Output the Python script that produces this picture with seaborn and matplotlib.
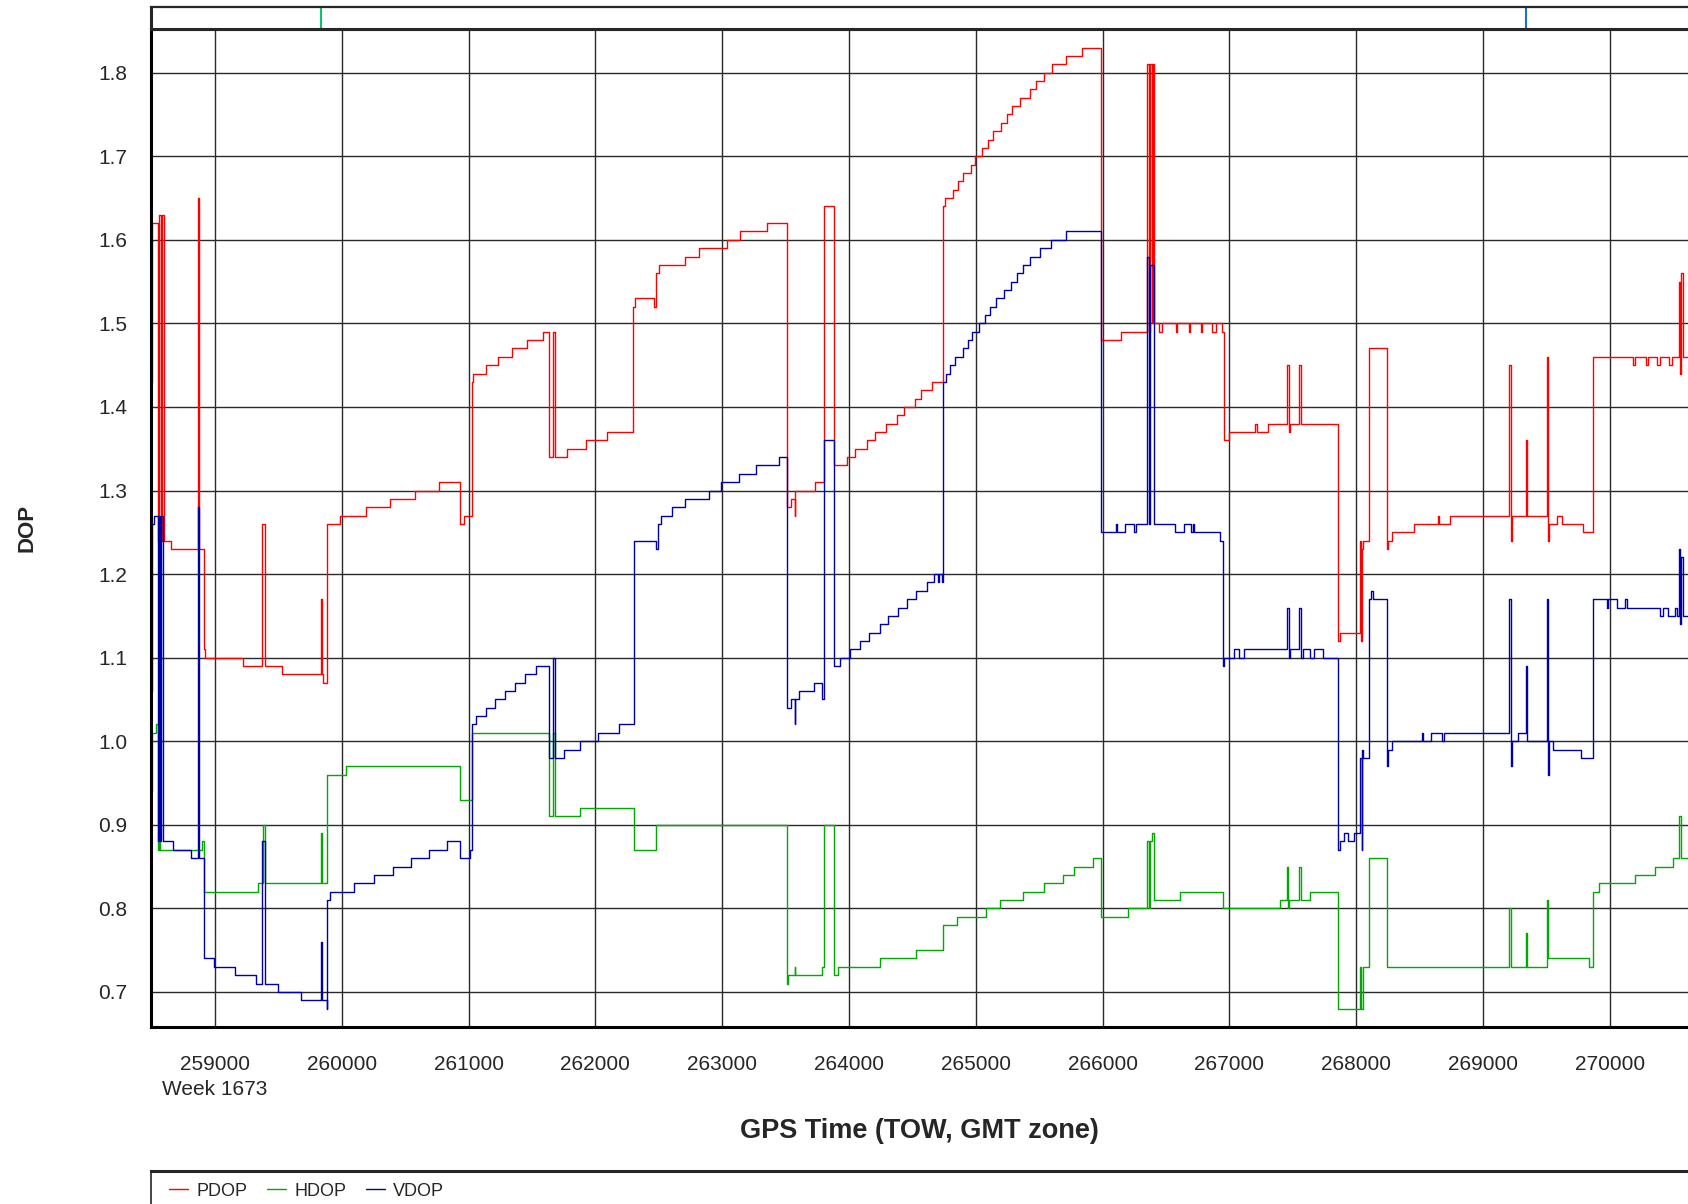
import numpy as np
import pandas as pd
import matplotlib
matplotlib.use("Agg")
import matplotlib.pyplot as plt
import seaborn as sns

# DOP readings (GPS time of week, value), step changes only
pdop_t = [258495, 258500, 258548, 258555, 258570, 258580, 258600, 258650, 258864, 258872,
          258910, 258922, 259217, 259368, 259392, 259524, 259835, 259842, 259850, 259886,
          259983, 260188, 260380, 260573, 260766, 260935, 260965, 261025, 261037, 261134,
          261233, 261342, 261459, 261589, 261634, 261664, 261680, 261773, 261924, 262095,
          262297, 262315, 262463, 262478, 262502, 262704, 262816, 263036, 263139, 263350,
          263510, 263546, 263571, 263578, 263728, 263803, 263885, 263984, 264045, 264141,
          264202, 264292, 264377, 264431, 264519, 264567, 264651, 264742, 264757, 264820,
          264863, 264902, 264965, 264995, 265050, 265098, 265137, 265198, 265246, 265288,
          265349, 265424, 265476, 265536, 265605, 265714, 265841, 265986, 266149, 266354,
          266365, 266375, 266390, 266399, 266408, 266445, 266470, 266580, 266590, 266680,
          266690, 266777, 266787, 266867, 266891, 266943, 266958, 267000, 267199, 267215,
          267305, 267453, 267474, 267480, 267553, 267566, 267861, 267874, 268032, 268040,
          268050, 268058, 268105, 268242, 268250, 268281, 268460, 268644, 268655, 268741,
          269204, 269220, 269230, 269340, 269350, 269505, 269515, 269525, 269582, 269621,
          269792, 269866, 270186, 270200, 270286, 270300, 270376, 270400, 270470, 270490,
          270550, 270558, 270565, 270575, 270618]
pdop_v = [1.43, 1.62, 1.24, 1.63, 1.24, 1.63, 1.24, 1.23, 1.65, 1.23,
          1.11, 1.10, 1.09, 1.26, 1.09, 1.08, 1.17, 1.08, 1.07, 1.26,
          1.27, 1.28, 1.29, 1.30, 1.31, 1.26, 1.27, 1.43, 1.44, 1.45,
          1.46, 1.47, 1.48, 1.49, 1.34, 1.49, 1.34, 1.35, 1.36, 1.37,
          1.52, 1.53, 1.52, 1.56, 1.57, 1.58, 1.59, 1.60, 1.61, 1.62,
          1.28, 1.29, 1.27, 1.30, 1.31, 1.64, 1.33, 1.34, 1.35, 1.36,
          1.37, 1.38, 1.39, 1.40, 1.41, 1.42, 1.43, 1.64, 1.65, 1.66,
          1.67, 1.68, 1.69, 1.70, 1.71, 1.72, 1.73, 1.74, 1.75, 1.76,
          1.77, 1.78, 1.79, 1.80, 1.81, 1.82, 1.83, 1.48, 1.49, 1.81,
          1.49, 1.81, 1.50, 1.81, 1.50, 1.49, 1.50, 1.49, 1.50, 1.49,
          1.50, 1.49, 1.50, 1.49, 1.50, 1.49, 1.36, 1.37, 1.38, 1.37,
          1.38, 1.45, 1.37, 1.38, 1.45, 1.38, 1.12, 1.13, 1.24, 1.12,
          1.23, 1.24, 1.47, 1.23, 1.24, 1.25, 1.26, 1.27, 1.26, 1.27,
          1.45, 1.24, 1.27, 1.36, 1.27, 1.46, 1.24, 1.26, 1.27, 1.26,
          1.25, 1.46, 1.45, 1.46, 1.45, 1.46, 1.45, 1.46, 1.45, 1.46,
          1.55, 1.44, 1.56, 1.46, 1.46]

hdop_t = [258495, 258500, 258530, 258548, 258555, 258565, 258900, 258915, 259335, 259380,
          259392, 259835, 259845, 259886, 260031, 260935, 261025, 261634, 261664, 261680,
          261875, 262303, 262478, 263510, 263520, 263571, 263578, 263788, 263803, 263885,
          263910, 264241, 264528, 264745, 264854, 265080, 265192, 265376, 265539, 265690,
          265771, 265925, 265986, 266197, 266354, 266365, 266375, 266390, 266405, 266611,
          266952, 267396, 267453, 267462, 267470, 267553, 267562, 267637, 267861, 268032,
          268040, 268058, 268105, 268242, 269204, 269225, 269340, 269350, 269505, 269515,
          269840, 269866, 269918, 270200, 270357, 270502, 270550, 270560, 270618]
hdop_v = [0.94, 1.01, 1.02, 0.87, 1.02, 0.87, 0.88, 0.82, 0.83, 0.90,
          0.83, 0.89, 0.83, 0.96, 0.97, 0.93, 1.01, 0.91, 1.01, 0.91,
          0.92, 0.87, 0.90, 0.71, 0.72, 0.73, 0.72, 0.73, 0.90, 0.72,
          0.73, 0.74, 0.75, 0.78, 0.79, 0.80, 0.81, 0.82, 0.83, 0.84,
          0.85, 0.86, 0.79, 0.80, 0.88, 0.80, 0.88, 0.89, 0.81, 0.82,
          0.80, 0.81, 0.85, 0.80, 0.81, 0.85, 0.81, 0.82, 0.68, 0.73,
          0.68, 0.73, 0.86, 0.73, 0.80, 0.73, 0.77, 0.73, 0.81, 0.74,
          0.73, 0.82, 0.83, 0.84, 0.85, 0.86, 0.91, 0.86, 0.86]

vdop_t = [258495, 258500, 258520, 258548, 258555, 258565, 258575, 258590, 258671, 258810,
          258864, 258872, 258910, 258991, 259157, 259322, 259368, 259392, 259494, 259675,
          259835, 259842, 259880, 259886, 259904, 260097, 260257, 260405, 260549, 260691,
          260833, 260935, 261007, 261025, 261056, 261137, 261209, 261288, 261366, 261447,
          261535, 261634, 261664, 261680, 261749, 261875, 262020, 262183, 262303, 262478,
          262490, 262514, 262605, 262704, 262894, 262991, 263133, 263266, 263447, 263510,
          263540, 263571, 263578, 263607, 263721, 263790, 263803, 263885, 263933, 264005,
          264084, 264159, 264241, 264307, 264383, 264461, 264528, 264618, 264670, 264700,
          264710, 264735, 264742, 264769, 264799, 264839, 264899, 264935, 264971, 265026,
          265074, 265110, 265156, 265222, 265276, 265322, 265376, 265430, 265503, 265593,
          265714, 265986, 266107, 266112, 266179, 266248, 266264, 266354, 266365, 266375,
          266408, 266574, 266641, 266701, 266715, 266725, 266928, 266952, 266960, 267033,
          267079, 267115, 267453, 267474, 267480, 267553, 267566, 267585, 267637, 267670,
          267740, 267861, 267870, 267905, 267935, 267980, 268032, 268045, 268050, 268058,
          268105, 268120, 268135, 268242, 268250, 268281, 268518, 268530, 268591, 268675,
          268690, 269204, 269220, 269230, 269280, 269340, 269350, 269505, 269515, 269525,
          269551, 269771, 269866, 269982, 269990, 270055, 270121, 270134, 270397, 270423,
          270462, 270515, 270528, 270550, 270558, 270565, 270575, 270618]
vdop_v = [1.06, 1.26, 1.27, 0.88, 1.27, 0.88, 1.27, 0.88, 0.87, 0.86,
          1.28, 0.86, 0.74, 0.73, 0.72, 0.71, 0.88, 0.71, 0.70, 0.69,
          0.76, 0.69, 0.68, 0.81, 0.82, 0.83, 0.84, 0.85, 0.86, 0.87,
          0.88, 0.86, 0.87, 1.02, 1.03, 1.04, 1.05, 1.06, 1.07, 1.08,
          1.09, 0.98, 1.10, 0.98, 0.99, 1.00, 1.01, 1.02, 1.24, 1.23,
          1.26, 1.27, 1.28, 1.29, 1.30, 1.31, 1.32, 1.33, 1.34, 1.04,
          1.05, 1.02, 1.05, 1.06, 1.07, 1.05, 1.36, 1.09, 1.10, 1.11,
          1.12, 1.13, 1.14, 1.15, 1.16, 1.17, 1.18, 1.19, 1.20, 1.19,
          1.20, 1.19, 1.43, 1.44, 1.45, 1.46, 1.47, 1.48, 1.49, 1.50,
          1.51, 1.52, 1.53, 1.54, 1.55, 1.56, 1.57, 1.58, 1.59, 1.60,
          1.61, 1.25, 1.26, 1.25, 1.26, 1.25, 1.26, 1.58, 1.26, 1.57,
          1.26, 1.25, 1.26, 1.25, 1.26, 1.25, 1.24, 1.09, 1.10, 1.11,
          1.10, 1.11, 1.16, 1.10, 1.11, 1.16, 1.10, 1.11, 1.10, 1.11,
          1.10, 0.87, 0.88, 0.89, 0.88, 0.89, 0.98, 0.87, 0.99, 0.98,
          1.17, 1.18, 1.17, 0.97, 0.99, 1.00, 1.01, 1.00, 1.01, 1.00,
          1.01, 1.17, 0.97, 1.00, 1.01, 1.09, 1.00, 1.17, 0.96, 1.00,
          0.99, 0.98, 1.17, 1.16, 1.17, 1.16, 1.17, 1.16, 1.15, 1.16,
          1.15, 1.16, 1.15, 1.23, 1.14, 1.22, 1.15, 1.15]

series_names = ["PDOP", "HDOP", "VDOP"]
series_colors = ["#ff0000", "#00aa00", "#0000aa"]

x_ticks = list(range(259000, 271000, 1000))
y_ticks = [0.7, 0.8, 0.9, 1.0, 1.1, 1.2, 1.3, 1.4, 1.5, 1.6, 1.7, 1.8]
week_label = "Week 1673"

# event marks in the strip above the plot
event_t = [259835, 269340]
event_colors = ["#10c070", "#1a70d0"]

df = pd.concat([
    pd.DataFrame({"t": pdop_t, "DOP": pdop_v, "series": "PDOP"}),
    pd.DataFrame({"t": hdop_t, "DOP": hdop_v, "series": "HDOP"}),
    pd.DataFrame({"t": vdop_t, "DOP": vdop_v, "series": "VDOP"}),
], ignore_index=True)

sns.set_style("white")
plt.rcParams["font.family"] = ["Liberation Sans", "DejaVu Sans"]

W, H = 1688, 1204
fig = plt.figure(figsize=(W / 100, H / 100), dpi=100)

left = 150.7 / W
top_px, bot_px = 29.0, 1027.0
ax = fig.add_axes([left, 1 - bot_px / H, 1 - left, (bot_px - top_px) / H])

sns.lineplot(data=df, x="t", y="DOP", hue="series", hue_order=series_names,
             palette=series_colors, drawstyle="steps-post", estimator=None,
             linewidth=1.0, legend=False, ax=ax)

ax.set_xlim(258492, 270618)
ax.set_ylim(0.658, 1.8523)
ax.set_xticks(x_ticks)
ax.set_xticklabels([f"{x_ticks[0]}\n{week_label}"] + [str(x) for x in x_ticks[1:]],
                   fontsize=15, linespacing=1.38)
ax.set_yticks(y_ticks)
ax.set_yticklabels([f"{v:.1f}" for v in y_ticks], fontsize=15)
ax.tick_params(axis="x", direction="out", length=9.5, width=0.9, color="#2a2a2a", pad=11)
ax.tick_params(axis="y", direction="out", length=7.7, width=0.9, color="#2a2a2a", pad=9)
ax.grid(True, color="#2a2a2a", linewidth=1.0)
ax.set_axisbelow(True)

for side in ["left", "bottom", "top"]:
    ax.spines[side].set_color("black")
    ax.spines[side].set_linewidth(2.2)
ax.spines["right"].set_visible(False)

ax.set_xlabel("GPS Time (TOW, GMT zone)", fontsize=19.5, fontweight="bold")
ax.xaxis.set_label_coords(0.5, -(1131 - bot_px) / (bot_px - top_px))
ax.xaxis.label.set_va("center")
ax.set_ylabel("DOP", fontsize=16, fontweight="bold")
ax.yaxis.set_label_coords(-(150.7 - 27) / (W - 150.7), 0.5)
ax.yaxis.label.set_va("center")

# strip above the plot with event marks
ax_top = fig.add_axes([left, 1 - top_px / H, 1 - left, (top_px - 6.5) / H])
ax_top.set_xlim(ax.get_xlim())
ax_top.set_ylim(0, 1)
ax_top.set_xticks([])
ax_top.set_yticks([])
ax_top.spines["top"].set_linewidth(1.6)
ax_top.spines["left"].set_linewidth(2.2)
ax_top.spines["bottom"].set_linewidth(2.2)
ax_top.spines["right"].set_visible(False)
for t, c in zip(event_t, event_colors):
    ax_top.axvline(t, color=c, linewidth=1.5)

# legend box at the bottom
leg_top = 1171.0
ax_leg = fig.add_axes([left, 0, 1 - left, (H - leg_top) / H])
ax_leg.set_xticks([])
ax_leg.set_yticks([])
ax_leg.spines["top"].set_linewidth(2.2)
ax_leg.spines["left"].set_linewidth(1.2)
ax_leg.spines["bottom"].set_visible(False)
ax_leg.spines["right"].set_visible(False)

handles = ax.get_lines()[:3]
fig.legend(handles, series_names, loc="center left",
           bbox_to_anchor=(169 / W, 1 - 1191 / H), bbox_transform=fig.transFigure,
           ncol=3, frameon=False, fontsize=13, handlelength=1.05, handletextpad=0.45,
           columnspacing=1.1, borderpad=0, borderaxespad=0)

fig.savefig("out.png", dpi=100)
